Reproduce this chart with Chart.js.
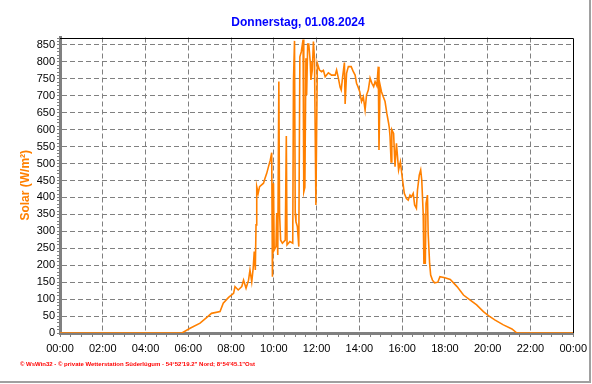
<!DOCTYPE html>
<html lang="de">
<head>
<meta charset="UTF-8">
<title>Solar</title>
<style>
  html, body { margin: 0; padding: 0; background: #fff; }
  #wrap { width: 592px; height: 384px; }
</style>
</head>
<body>
<div id="wrap"><canvas id="myChart" width="592" height="384"></canvas></div>
<script src="https://cdn.jsdelivr.net/npm/chart.js@4.4.1/dist/chart.umd.min.js"></script>
<script>
// Daten
var titel = 'Donnerstag, 01.08.2024';
var achsenTitel = 'Solar (W/m\u00B2)';
var fussText = '\u00A9 WsWin32 - \u00A9 private Wetterstation S\u00FCderl\u00FCgum - 54\u00B052\'19.2" Nord; 8\u00B054\'45.1"Ost';

var zeitLabels = ['00:00','02:00','04:00','06:00','08:00','10:00','12:00','14:00','16:00','18:00','20:00','22:00','00:00'];

var zeiten = ['00:00','05:42','06:05','06:33','06:52','07:05','07:29','07:38','07:53','08:07','08:11','08:20','08:30','08:35','08:42','08:49','08:53','08:58',
  '09:02','09:05','09:08','09:10','09:12','09:16','09:20','09:31','09:35','09:40','09:45','09:50','09:54','09:56','09:59',
  '10:01','10:06','10:08','10:11','10:14','10:16','10:19','10:24','10:32','10:35','10:37','10:45','10:53','10:55','10:58',
  '11:00','11:02','11:06','11:10','11:13','11:17','11:22','11:24','11:27','11:30','11:32','11:35','11:38','11:42','11:44','11:48','11:51','11:54','11:58',
  '12:02','12:08','12:14','12:19','12:24','12:33','12:42','12:52','12:56',
  '13:01','13:06','13:09','13:13','13:18','13:20','13:24','13:29','13:37','13:43','13:48','13:52','13:56',
  '14:01','14:06','14:11','14:16','14:20','14:25','14:30','14:35','14:40','14:44','14:49','14:53','14:55','14:58',
  '15:02','15:07','15:12','15:17','15:22','15:24','15:26','15:29','15:31','15:36','15:40','15:44','15:50','15:55',
  '16:00','16:06','16:12','16:17','16:22','16:26','16:31','16:35','16:40','16:43','16:48','16:52','16:55','16:59',
  '17:01','17:05','17:07','17:11','17:13','17:17','17:20','17:25','17:31','17:40','17:46',
  '18:00','18:15','18:34','18:52','19:11','19:29','19:48','20:02','20:21','20:44','21:08','21:22','24:00'];

var solar = [0,0,14,29,46,58,63,88,105,117,137,127,137,156,132,156,186,151,
  191,240,186,319,432,412,432,442,456,471,491,510,532,166,442,
  245,255,354,230,742,353,274,265,274,581,260,270,265,742,862,
  353,328,314,255,815,830,866,417,430,811,702,853,853,801,747,776,860,811,378,
  796,776,771,775,756,768,761,761,776,
  752,725,717,756,798,676,766,786,786,771,761,737,727,
  712,683,697,658,702,717,752,737,727,742,730,786,540,732,
  712,697,683,648,619,605,580,505,600,589,491,560,481,505,
  461,412,397,392,407,402,412,378,368,422,466,481,451,353,
  206,206,383,407,294,206,171,156,148,150,166,
  163,158,137,112,97,83,63,51,38,24,12,0,0];

function stunden(t) {
  var p = t.split(':');
  return parseInt(p[0], 10) + parseInt(p[1], 10) / 60;
}

var punkte = zeiten.map(function (t, i) { return { x: stunden(t), y: solar[i] }; });

var schrift = 'Arial, "Liberation Sans", sans-serif';

// Rahmen, Ueberschrift und Fusszeile
var rahmenPlugin = {
  id: 'rahmen',
  afterDraw: function (chart) {
    var ctx = chart.ctx, a = chart.chartArea;
    ctx.save();
    ctx.strokeStyle = '#000';
    ctx.lineWidth = 1;
    ctx.beginPath();
    ctx.moveTo(a.left, Math.round(a.top) + 0.5);
    ctx.lineTo(Math.round(a.right) + 0.5, Math.round(a.top) + 0.5);
    ctx.lineTo(Math.round(a.right) + 0.5, a.bottom);
    ctx.stroke();

    ctx.strokeStyle = '#a0a0a0';
    ctx.lineWidth = 2;
    ctx.beginPath();
    ctx.moveTo(590, 0);
    ctx.lineTo(590, 382);
    ctx.lineTo(0, 382);
    ctx.stroke();

    ctx.fillStyle = '#0000ff';
    ctx.font = 'bold 12px ' + schrift;
    ctx.textAlign = 'center';
    ctx.textBaseline = 'middle';
    ctx.fillText(titel, 298, 23);

    ctx.fillStyle = '#ff0000';
    ctx.font = 'bold 6px ' + schrift;
    ctx.textAlign = 'left';
    ctx.fillText(fussText, 20, 364);
    ctx.restore();
  }
};

var ctx = document.getElementById('myChart').getContext('2d');
var myChart = new Chart(ctx, {
  type: 'line',
  data: {
    datasets: [{
      data: punkte,
      borderColor: '#ff8000',
      borderWidth: 1.6,
      pointRadius: 0,
      tension: 0,
      fill: false
    }]
  },
  options: {
    responsive: false,
    animation: false,
    devicePixelRatio: 1,
    layout: { padding: { top: 37.5, right: 17, bottom: 0, left: 0 } },
    plugins: {
      legend: { display: false },
      tooltip: { enabled: false },
      title: { display: false }
    },
    scales: {
      x: {
        type: 'linear',
        min: 0,
        max: 24,
        afterFit: function (s) { s.height = 51; },
        ticks: {
          stepSize: 0.5,
          autoSkip: false,
          maxRotation: 0,
          includeBounds: false,
          padding: 5,
          color: '#000',
          font: { family: schrift, size: 11 },
          callback: function (v) { return v % 2 === 0 ? zeitLabels[v / 2] : ''; }
        },
        grid: {
          color: function (c) {
            var v = c.tick ? c.tick.value : 0;
            return (v % 2 === 0 && v > 0 && v < 24) ? '#808080' : 'transparent';
          },
          lineWidth: 1,
          tickLength: 4,
          tickColor: '#808080',
          tickWidth: 1
        },
        border: { display: true, color: '#808080', width: 3, dash: [5, 3] }
      },
      y: {
        type: 'linear',
        min: 0,
        max: 872,
        afterFit: function (s) { s.width = 60; },
        ticks: {
          stepSize: 10,
          autoSkip: false,
          includeBounds: false,
          padding: 2,
          color: '#000',
          font: { family: schrift, size: 11 },
          callback: function (v) { return v % 50 === 0 ? String(v) : ''; }
        },
        grid: {
          color: function (c) {
            var v = c.tick ? c.tick.value : 0;
            return (v % 50 === 0 && v > 0) ? '#808080' : 'transparent';
          },
          lineWidth: 1,
          tickLength: 3,
          tickColor: '#808080',
          tickWidth: 1
        },
        border: { display: true, color: '#808080', width: 3, dash: [5, 3] },
        title: {
          display: true,
          text: achsenTitel,
          color: '#ff8000',
          font: { family: schrift, size: 12, weight: 'bold' },
          padding: { top: 18, bottom: 0 }
        }
      }
    }
  },
  plugins: [rahmenPlugin]
});
</script>
</body>
</html>
